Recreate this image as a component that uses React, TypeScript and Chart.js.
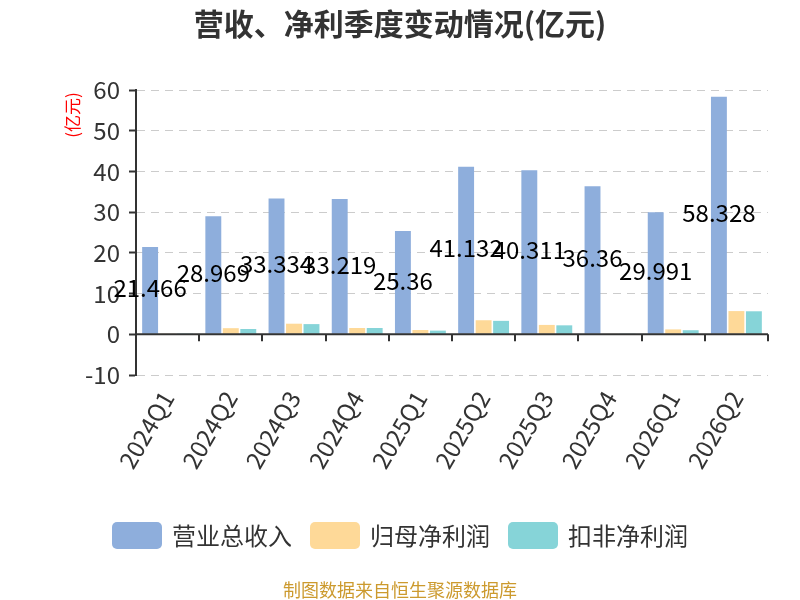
import React, { useEffect, useRef } from "react";
import { Chart, registerables } from "chart.js";

Chart.register(...registerables);

const categories = ["2024Q1", "2024Q2", "2024Q3", "2024Q4", "2025Q1", "2025Q2", "2025Q3", "2025Q4", "2026Q1", "2026Q2"];
const revenue = [21.466, 28.969, 33.334, 33.219, 25.36, 41.132, 40.311, 36.36, 29.991, 58.328];
const netProfit = [0.03, 1.5, 2.6, 1.55, 1.05, 3.45, 2.3, 0.15, 1.2, 5.7];
const deductedProfit = [0.2, 1.3, 2.5, 1.55, 0.9, 3.3, 2.2, 0.02, 1.0, 5.65];
const seriesNames = ["营业总收入", "归母净利润", "扣非净利润"];
const seriesColors = ["#8eaedc", "#fed998", "#86d4d8"];
const yMin = -10;
const yMax = 60;
const yStep = 10;
const titleText = "营收、净利季度变动情况(亿元)";
const unitText = "(亿元)";
const footerText = "制图数据来自恒生聚源数据库";

const FONT = '"Noto Sans CJK SC", "Noto Sans", sans-serif';

const customPlugin = {
  id: "customDecor",
  afterDatasetsDraw(chart: any) {
    const { ctx, chartArea, scales } = chart;
    const xs = scales.x;
    const ys = scales.y;
    const y0 = ys.getPixelForValue(0);
    ctx.save();
    // zero axis line
    ctx.strokeStyle = "#333";
    ctx.lineWidth = 2;
    ctx.beginPath();
    ctx.moveTo(chartArea.left, y0);
    ctx.lineTo(chartArea.right, y0);
    ctx.stroke();
    // category boundary ticks
    const n = categories.length;
    const w = (xs.right - xs.left) / n;
    for (let i = 0; i <= n; i++) {
      const xx = Math.round(xs.left + i * w);
      ctx.beginPath();
      ctx.moveTo(xx, y0);
      ctx.lineTo(xx, y0 + 7);
      ctx.stroke();
    }
    // data labels on revenue bars
    const meta = chart.getDatasetMeta(0);
    ctx.font = `24px ${FONT}`;
    ctx.fillStyle = "#000";
    ctx.textAlign = "center";
    ctx.textBaseline = "middle";
    meta.data.forEach((el: any, i: number) => {
      ctx.fillText(String(revenue[i]), el.x, (el.y + el.base) / 2 - 2);
    });
    ctx.restore();
  },
  afterDraw(chart: any) {
    const { ctx } = chart;
    ctx.save();
    // title
    ctx.font = `bold 30px ${FONT}`;
    ctx.fillStyle = "#333";
    ctx.textAlign = "center";
    ctx.textBaseline = "middle";
    ctx.fillText(titleText, 400, 24);
    // unit label
    ctx.save();
    ctx.translate(73, 115);
    ctx.rotate(-Math.PI / 2);
    ctx.font = `17px ${FONT}`;
    ctx.fillStyle = "#ff0000";
    ctx.fillText(unitText, 0, 0);
    ctx.restore();
    // legend
    ctx.font = `24px ${FONT}`;
    const boxW = 50;
    const boxH = 27;
    const gapText = 10;
    const gapItem = 18;
    const widths = seriesNames.map((s) => ctx.measureText(s).width);
    const total = widths.reduce((a, b) => a + b + boxW + gapText, 0) + gapItem * (seriesNames.length - 1);
    let x = 400 - total / 2;
    const yc = 535.5;
    chart.data.datasets.forEach((ds: any, i: number) => {
      ctx.fillStyle = ds.backgroundColor;
      ctx.beginPath();
      (ctx as any).roundRect(x, yc - boxH / 2, boxW, boxH, 5);
      ctx.fill();
      ctx.fillStyle = "#333";
      ctx.textAlign = "left";
      ctx.textBaseline = "middle";
      ctx.fillText(ds.label, x + boxW + gapText, yc);
      x += boxW + gapText + widths[i] + gapItem;
    });
    // footer
    ctx.font = `18px ${FONT}`;
    ctx.fillStyle = "#cc9a2e";
    ctx.textAlign = "center";
    ctx.fillText(footerText, 400, 590);
    ctx.restore();
  },
};

export default function App() {
  const ref = useRef<HTMLCanvasElement | null>(null);
  useEffect(() => {
    if (!ref.current) return;
    const chart = new Chart(ref.current, {
      type: "bar",
      data: {
        labels: categories,
        datasets: [
          { label: seriesNames[0], data: revenue, backgroundColor: seriesColors[0] },
          { label: seriesNames[1], data: netProfit, backgroundColor: seriesColors[1] },
          { label: seriesNames[2], data: deductedProfit, backgroundColor: seriesColors[2] },
        ],
      },
      options: {
        responsive: false,
        animation: false,
        devicePixelRatio: 1,
        layout: { padding: { top: 90, right: 32, bottom: 105, left: 0 } },
        datasets: { bar: { categoryPercentage: 0.83, barPercentage: 0.91 } },
        plugins: {
          legend: { display: false },
          title: { display: false },
          tooltip: { enabled: false },
        },
        scales: {
          x: {
            grid: { display: false, drawTicks: false },
            border: { display: false },
            ticks: {
              font: { size: 24, family: FONT },
              color: "#333",
              maxRotation: 60,
              minRotation: 60,
              padding: 11,
              autoSkip: false,
            },
            afterFit: (s: any) => {
              s.height = 120;
            },
          },
          y: {
            min: yMin,
            max: yMax,
            ticks: {
              stepSize: yStep,
              font: { size: 24, family: FONT },
              color: "#333",
              padding: 9,
            },
            grid: {
              color: (c: any) => (c.tick && c.tick.value === 0 ? "rgba(0,0,0,0)" : "#cccccc"),
              lineWidth: 1,
              tickColor: "#333",
              tickLength: 7,
              tickWidth: 2,
              drawTicks: true,
            },
            border: { display: true, color: "#333", width: 2, dash: [8, 6] },
            afterFit: (s: any) => {
              s.width = 136;
            },
          },
        },
      },
      plugins: [customPlugin],
    });
    return () => chart.destroy();
  }, []);
  return (
    <div style={{ position: "fixed", left: 0, top: 0, width: 800, height: 600, background: "#fff" }}>
      <canvas ref={ref} width={800} height={600} />
    </div>
  );
}
